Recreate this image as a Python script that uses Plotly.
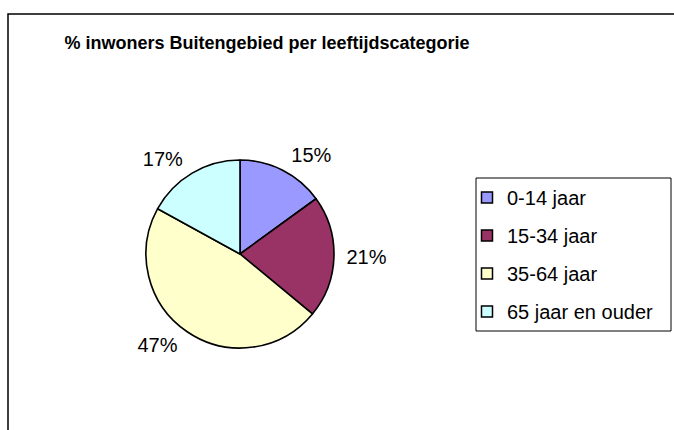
import plotly.graph_objects as go

categories = ["0-14 jaar", "15-34 jaar", "35-64 jaar", "65 jaar en ouder"]
values = [15, 21, 47, 17]
colors = ["#9999FF", "#993366", "#FFFFCC", "#CCFFFF"]
title_text = "% inwoners Buitengebied per leeftijdscategorie"

W, H = 674, 430
FONT = "Liberation Sans, Arial, sans-serif"

cx, cy, r = 240, 254, 94
r_lab = 101  # radius used only to place the outside percentage labels


def dom(rad):
    return dict(x=[(cx - rad) / W, (cx + rad) / W],
                y=[(H - cy - rad) / H, (H - cy + rad) / H])


fig = go.Figure()
# visible pie
fig.add_trace(go.Pie(
    labels=categories,
    values=values,
    sort=False,
    direction="clockwise",
    rotation=0,
    marker=dict(colors=colors, line=dict(color="black", width=1.6)),
    textinfo="none",
    showlegend=False,
    domain=dom(r),
    hoverinfo="label+percent",
))
# transparent pie carrying the percentage labels slightly further out
fig.add_trace(go.Pie(
    labels=categories,
    values=values,
    sort=False,
    direction="clockwise",
    rotation=0,
    marker=dict(colors=["rgba(0,0,0,0)"] * len(values), line=dict(width=0)),
    textinfo="percent",
    textposition="outside",
    textfont=dict(family=FONT, size=20, color="black"),
    showlegend=False,
    domain=dom(r_lab),
    hoverinfo="skip",
))

for cat, col in zip(categories, colors):
    fig.add_trace(go.Scatter(
        x=[None], y=[None], mode="markers", name=cat, legendgroup=cat,
        marker=dict(symbol="square", size=11, color=col, line=dict(color="black", width=1.5)),
    ))

fig.update_layout(
    width=W, height=H,
    margin=dict(l=0, r=0, t=0, b=0),
    paper_bgcolor="white", plot_bgcolor="white",
    xaxis=dict(visible=False), yaxis=dict(visible=False),
    title=dict(text="<b>" + title_text + "</b>", x=267 / W, xanchor="center",
               y=1 - 43 / H, yanchor="middle",
               font=dict(family=FONT, size=18, color="black")),
    legend=dict(x=467 / W, y=1 - 178 / H, xanchor="left", yanchor="top",
                borderwidth=0, bgcolor="rgba(0,0,0,0)",
                font=dict(family=FONT, size=20, color="black"),
                tracegroupgap=9, itemsizing="trace"),
    shapes=[
        dict(type="rect", xref="paper", yref="paper",
             x0=8 / W, x1=1.05, y0=-0.05, y1=1 - 14 / H,
             line=dict(color="black", width=1.5), layer="below"),
        dict(type="rect", xref="paper", yref="paper",
             x0=476 / W, x1=671 / W, y0=1 - 331 / H, y1=1 - 178 / H,
             line=dict(color="black", width=1), fillcolor="white", layer="below"),
    ],
)

fig.write_html("out.html", config={"displayModeBar": False},
               post_script="document.body.style.margin='0';")
